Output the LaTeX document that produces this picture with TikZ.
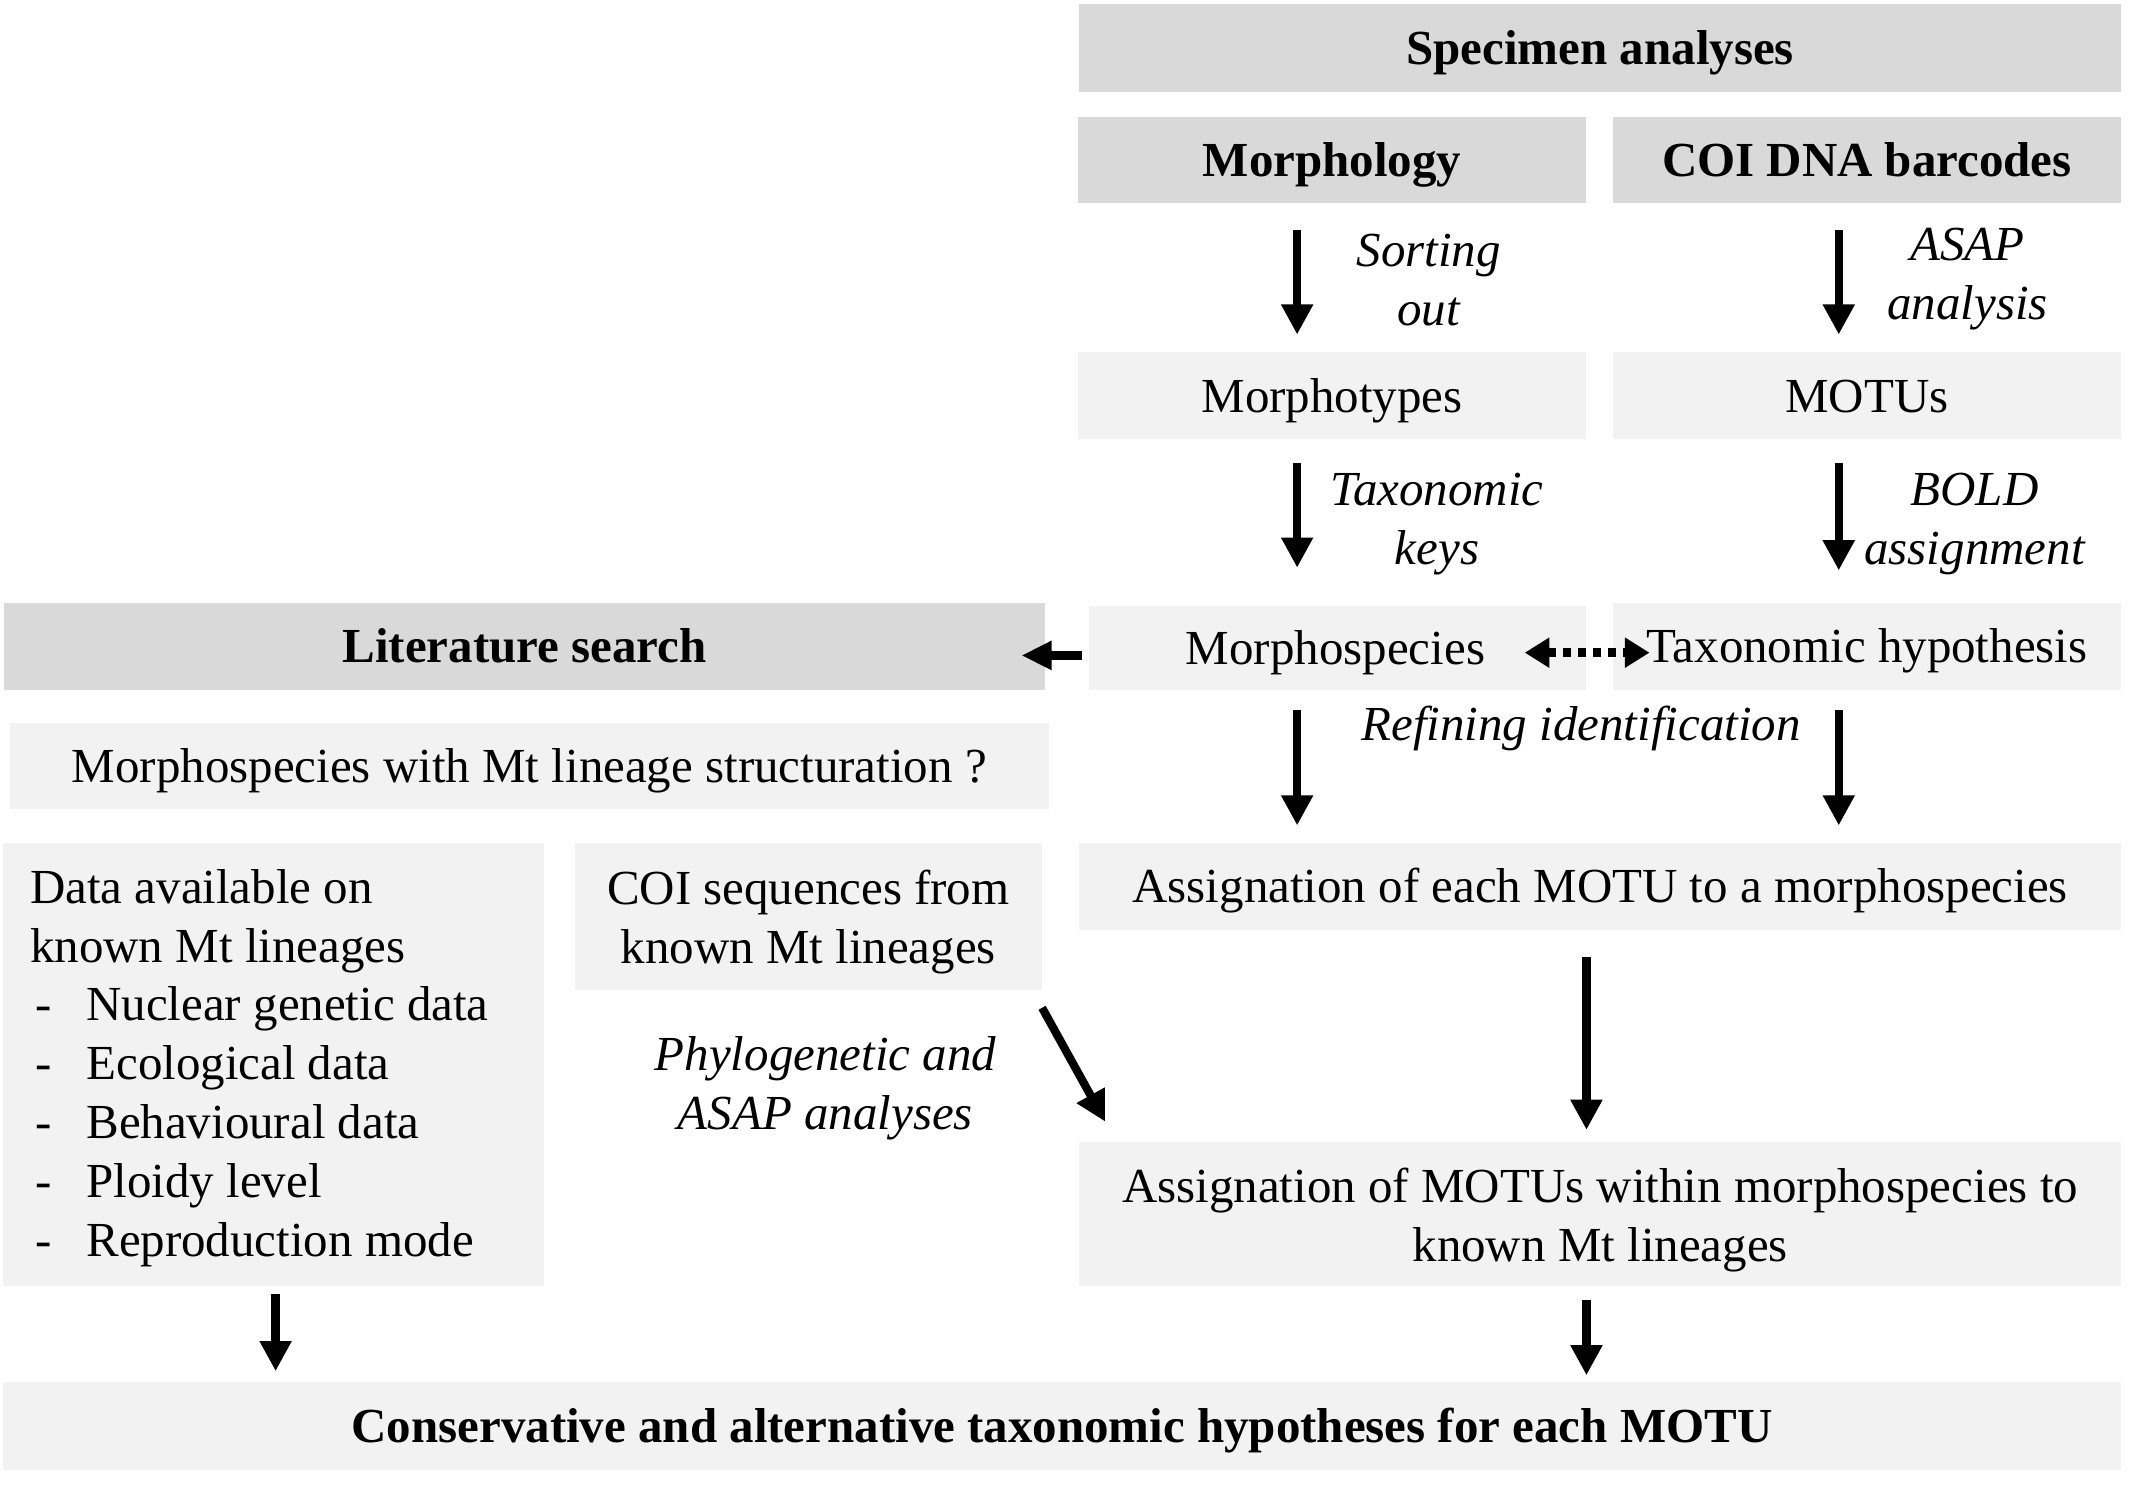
\documentclass[tikz,border=0pt]{standalone}
\usepackage{fontspec}
\setmainfont{Liberation Serif}
\usetikzlibrary{arrows.meta,calc}
\definecolor{hdr}{HTML}{D9D9D9}
\definecolor{lgt}{HTML}{F2F2F2}
\begin{document}
\begin{tikzpicture}[x=1pt,y=-1pt,
  box/.style={inner sep=0pt, outer sep=0pt, align=center, font=\fontsize{35.7}{43}\selectfont},
  one/.style={text height=24pt, text depth=0pt},
  hbox/.style={box, one, fill=hdr, font=\fontsize{35.7}{43}\selectfont\bfseries},
  lbox/.style={box, fill=lgt},
  fbox/.style={box, one, fill=lgt, font=\fontsize{35.7}{43}\selectfont\bfseries},
  lab/.style={align=center, inner sep=0pt, font=\fontsize{35.7}{43}\selectfont\itshape},
  arr/.style={line width=6pt, -{Triangle[length=22pt,width=22pt]}},
  dotarr/.style={line width=6.5pt, dash pattern=on 6pt off 5pt, {Triangle[length=18pt,width=21pt]}-{Triangle[length=18pt,width=21pt]}},
]
\useasboundingbox[fill=white] (0,0) rectangle (1568,1083);

% header boxes
\node[hbox, minimum width=760pt, minimum height=64pt] (spec) at (1167,35) {Specimen analyses};
\node[hbox, minimum width=371pt, minimum height=63pt] (morph) at (971.5,116.5) {Morphology};
\node[hbox, minimum width=371pt, minimum height=63pt] (coi) at (1361.5,116.5) {COI DNA barcodes};

\node[lbox, one, minimum width=371pt, minimum height=63pt] (mtypes) at (971.5,288.5) {Morphotypes};
\node[lbox, one, minimum width=371pt, minimum height=63pt] (motus) at (1361.5,288.5) {MOTUs};

\node[hbox, minimum width=759pt, minimum height=63pt] (lit) at (382.5,471.5) {Literature search};
\node[lbox, one, minimum width=363pt, minimum height=61pt] (mspec) at (975.5,472.5) {\hspace*{-3pt}Morphospecies};
\node[lbox, one, minimum width=371pt, minimum height=63pt] (taxhyp) at (1361.5,471.5) {Taxonomic hypothesis};

\node[lbox, one, minimum width=758pt, minimum height=63pt] (mtstruct) at (386,558.5) {Morphospecies with Mt lineage structuration ?};
\node[lbox, one, minimum width=760pt, minimum height=63pt] (assign1) at (1167,646.5) {Assignation of each MOTU to a morphospecies};

\node[lbox, minimum width=395pt, minimum height=323pt] (data) at (199.5,776.5) {};
\node[box, anchor=west, align=left] (datatxt) at (22,779) {Data available on\\known Mt lineages\\
\hspace*{4pt}\makebox[37pt][l]{-}Nuclear genetic data\\
\hspace*{4pt}\makebox[37pt][l]{-}Ecological data\\
\hspace*{4pt}\makebox[37pt][l]{-}Behavioural data\\
\hspace*{4pt}\makebox[37pt][l]{-}Ploidy level\\
\hspace*{4pt}\makebox[37pt][l]{-}Reproduction mode};

\node[lbox, minimum width=341pt, minimum height=107pt] (coiseq) at (589.5,668.5) {};
\node[box] (coiseqtxt) at ($(coiseq.center)+(0,4)$) {COI sequences from\\known Mt lineages};
\node[lbox, minimum width=760pt, minimum height=105pt] (assign2) at (1167,885.5) {};
\node[box] (assign2txt) at ($(assign2.center)+(0,4)$) {Assignation of MOTUs within morphospecies to\\known Mt lineages};
\node[fbox, minimum width=1545pt, minimum height=64pt] (final) at (774.5,1040) {Conservative and alternative taxonomic hypotheses for each MOTU};

% labels
\node[lab] (l1) at (1042,204) {Sorting\\out};
\node[lab] (l2) at (1435,203.5) {ASAP\\analysis};
\node[lab] (l3) at (1048,382) {Taxonomic\\keys};
\node[lab] (l4) at (1440,382) {BOLD\\assignment};
\node[lab] (l5) at (1153,531) {Refining identification};
\node[lab] (l6) at (602,793.5) {Phylogenetic and\\ASAP analyses};

% arrows
\draw[arr, shorten <=20pt, shorten >=13pt] (morph.south -| 946,0) -- (mtypes.north -| 946,0);
\draw[arr, shorten <=20pt, shorten >=13pt] (coi.south -| 1341,0) -- (motus.north -| 1341,0);
\draw[arr, shorten <=18pt, shorten >=28pt] (mtypes.south -| 946,0) -- (mspec.north -| 946,0);
\draw[arr, shorten <=18pt, shorten >=24pt] (motus.south -| 1341,0) -- (taxhyp.north -| 1341,0);
\draw[arr, shorten <=15pt, shorten >=13pt] (mspec.south -| 946,0) -- (assign1.north -| 946,0);
\draw[arr, shorten <=15pt, shorten >=13pt] (taxhyp.south -| 1341,0) -- (assign1.north -| 1341,0);
\draw[arr, shorten <=20pt, shorten >=9pt] (assign1.south -| 1157,0) -- (assign2.north -| 1157,0);
\draw[arr, shorten <=6pt, shorten >=8pt] (data.south -| 201,0) -- (final.north -| 201,0);
\draw[arr, shorten <=10pt, shorten >=5pt] (assign2.south -| 1157,0) -- (final.north -| 1157,0);
\draw[line width=7pt, -{Triangle[length=22pt,width=20pt]}] ($(mspec.west)+(-5,5.5)$) -- ($(lit.east)+(-17,6.5)$);
\draw[arr] ($(coiseq.south east)+(0,13)$) -- ($(assign2.north west)+(19,-15)$);
\draw[dotarr] ($(mspec.east)+(-45,3.5)$) -- ($(taxhyp.west)+(27,4.5)$);
\end{tikzpicture}
\end{document}
